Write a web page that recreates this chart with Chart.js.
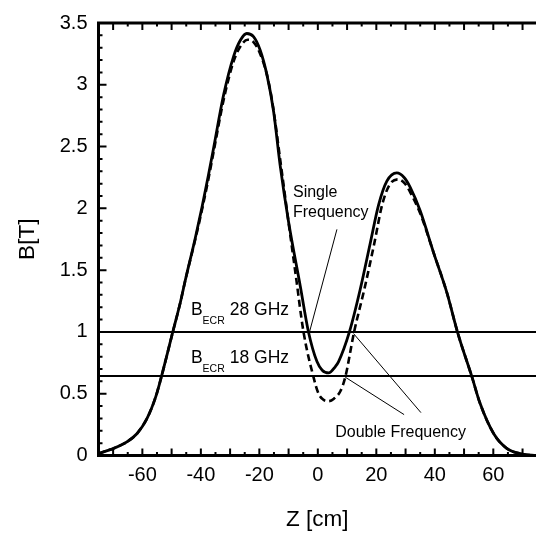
<!DOCTYPE html>
<html>
<head>
<meta charset="utf-8">
<script src="https://cdn.jsdelivr.net/npm/chart.js@4/dist/chart.umd.min.js"></script>
<style>
  html, body { margin: 0; padding: 0; background: #fff; }
</style>
</head>
<body>
<canvas id="fieldChart" width="536" height="535"></canvas>
<script>
// axial field profile, single frequency (solid)
const zSolid = [-75, -72, -69.8, -65.3, -61.8, -58.4, -55.5, -53.8, -49.7, -47, -45.3, -41.9, -39.6, -37.4, -35.7, -32.2, -28.8, -26.5, -24.3, -22, -19.7, -17.4, -15.1, -12.9, -10, -6, -3.2, -0.3, 1.5, 3.7, 6, 7.1, 10.8, 14.5, 17.9, 20.8, 23.6, 27, 29.5, 31.6, 35, 39.6, 44.1, 47.8, 52.7, 55.5, 60.1, 64.6, 70.3, 74.6];
const bSolid = [0.015, 0.04, 0.058, 0.11, 0.178, 0.30, 0.47, 0.61, 0.99, 1.24, 1.42, 1.76, 2.01, 2.27, 2.48, 2.92, 3.23, 3.36, 3.415, 3.39, 3.28, 3.08, 2.78, 2.35, 1.89, 1.37, 1.0, 0.76, 0.69, 0.668, 0.72, 0.76, 1.0, 1.345, 1.716, 2.03, 2.22, 2.287, 2.25, 2.17, 1.98, 1.64, 1.32, 0.995, 0.636, 0.42, 0.178, 0.058, 0.01, 0.0];

// double frequency (dashed)
const zDashed = [-75, -72, -69.8, -65.3, -61.8, -58.4, -55.5, -53.8, -49.7, -47, -45.3, -41.9, -39.6, -37.4, -35.7, -32.2, -28.8, -26.5, -24, -22, -19.7, -17.4, -15.5, -12.9, -10.2, -7.5, -4.9, -1.5, 0.25, 2, 3.7, 5.5, 7.7, 9.4, 12.4, 15.9, 19.3, 22, 24.5, 27.5, 29.8, 31.6, 35, 39.6, 44.1, 47.8, 52.7, 55.5, 60.1, 64.6, 70.3, 74.6];
const bDashed = [0.015, 0.04, 0.058, 0.11, 0.178, 0.30, 0.47, 0.61, 0.99, 1.24, 1.42, 1.75, 1.99, 2.24, 2.45, 2.88, 3.19, 3.31, 3.365, 3.345, 3.25, 3.08, 2.85, 2.40, 1.92, 1.45, 1.0, 0.636, 0.50, 0.45, 0.44, 0.46, 0.52, 0.636, 1.0, 1.345, 1.716, 2.03, 2.19, 2.235, 2.2, 2.13, 1.96, 1.64, 1.32, 0.995, 0.636, 0.42, 0.178, 0.058, 0.01, 0.0];

// resonance levels
const ecrLevels = [1.0, 0.643];
const ecrLabels = ['28 GHz', '18 GHz'];
const ecrLabelZ = -43.4;
const ecrLabelB = [1.134, 0.748];

// leader lines [z0, b0, z1, b1]
const singleLeader = [6.53, 1.83, -2.84, 1.0];
const doubleLeaders = [[35.25, 0.347, 12.2, 0.987], [29.5, 0.331, 9.37, 0.634]];
const singleText = ['Single', 'Frequency'];
const singleTextPos = [-8.5, 2.091, 1.932];
const doubleText = 'Double Frequency';
const doubleTextPos = [5.95, 0.148];

const xTickValues = [-60, -40, -20, 0, 20, 40, 60];
const yTickValues = [0, 0.5, 1, 1.5, 2, 2.5, 3, 3.5];
const zMin = -75, zMax = 74.6;

const fontFamily = '"Liberation Sans", Arial, sans-serif';

function pts(xs, ys) {
    return xs.map((v, i) => ({ x: v, y: ys[i] }));
}

const thinLine = (p) => ({
    data: [{ x: p[0], y: p[1] }, { x: p[2], y: p[3] }],
    borderColor: '#000',
    borderWidth: 1,
    pointRadius: 0
});

// inward ticks and the frame (left, bottom, top)
const axisFrame = {
    id: 'axisFrame',
    afterDatasetsDraw(chart) {
        const { ctx, chartArea: a, scales: { x, y } } = chart;
        ctx.save();
        ctx.strokeStyle = '#000';
        ctx.lineWidth = 2;
        ctx.beginPath();
        for (let v = -75; v <= 75; v += 5) {
            if (v < zMin || v > zMax) continue;
            const px = x.getPixelForValue(v);
            const len = v % 10 === 0 ? 7 : 3.5;
            ctx.moveTo(px, a.bottom); ctx.lineTo(px, a.bottom - len);
            ctx.moveTo(px, a.top); ctx.lineTo(px, a.top + len);
        }
        for (let i = 0; i <= 35; i++) {
            const py = y.getPixelForValue(i / 10);
            const len = i % 5 === 0 ? 8 : 4;
            ctx.moveTo(a.left, py); ctx.lineTo(a.left + len, py);
        }
        ctx.stroke();
        ctx.lineWidth = 3;
        ctx.beginPath();
        ctx.moveTo(a.left, a.top); ctx.lineTo(a.right, a.top);
        ctx.moveTo(a.left, a.top - 1.5); ctx.lineTo(a.left, a.bottom + 1.5);
        ctx.moveTo(a.left, a.bottom); ctx.lineTo(a.right, a.bottom);
        ctx.stroke();

        // annotations
        ctx.fillStyle = '#000';
        ctx.textBaseline = 'alphabetic';
        ctx.textAlign = 'left';
        ecrLevels.forEach((lv, i) => {
            let px = x.getPixelForValue(ecrLabelZ);
            const py = y.getPixelForValue(ecrLabelB[i]);
            ctx.font = '17.5px ' + fontFamily;
            ctx.fillText('B', px, py);
            px += ctx.measureText('B').width;
            ctx.font = '10.5px ' + fontFamily;
            ctx.fillText('ECR', px, py + 8.5);
            px += ctx.measureText('ECR').width + 5;
            ctx.font = '17.5px ' + fontFamily;
            ctx.fillText(ecrLabels[i], px, py);
        });
        ctx.font = '16px ' + fontFamily;
        ctx.fillText(singleText[0], x.getPixelForValue(singleTextPos[0]), y.getPixelForValue(singleTextPos[1]));
        ctx.fillText(singleText[1], x.getPixelForValue(singleTextPos[0]), y.getPixelForValue(singleTextPos[2]));
        ctx.fillText(doubleText, x.getPixelForValue(doubleTextPos[0]), y.getPixelForValue(doubleTextPos[1]));
        ctx.restore();
    }
};

const ctx = document.getElementById('fieldChart').getContext('2d');
const fieldChart = new Chart(ctx, {
    type: 'line',
    data: {
        datasets: [
            {
                label: 'Single Frequency',
                data: pts(zSolid, bSolid),
                borderColor: '#000',
                borderWidth: 2.8,
                pointRadius: 0,
                cubicInterpolationMode: 'monotone'
            },
            {
                label: 'Double Frequency',
                data: pts(zDashed, bDashed),
                borderColor: '#000',
                borderWidth: 2.6,
                borderDash: [7, 4],
                pointRadius: 0,
                cubicInterpolationMode: 'monotone'
            },
            ...ecrLevels.map(lv => ({
                data: [{ x: zMin, y: lv }, { x: zMax, y: lv }],
                borderColor: '#000',
                borderWidth: 2,
                pointRadius: 0
            })),
            thinLine(singleLeader),
            ...doubleLeaders.map(thinLine)
        ]
    },
    options: {
        responsive: false,
        animation: false,
        devicePixelRatio: 1,
        layout: { padding: { top: 16.7, right: 0, bottom: 0, left: 0 } },
        plugins: {
            legend: { display: false },
            tooltip: { enabled: false }
        },
        scales: {
            x: {
                type: 'linear',
                min: zMin,
                max: zMax,
                grid: { display: false, drawTicks: false },
                border: { display: false },
                afterBuildTicks: s => { s.ticks = xTickValues.map(v => ({ value: v })); },
                afterFit: s => { s.height = 79.5; },
                ticks: {
                    color: '#000',
                    padding: 8,
                    maxRotation: 0,
                    autoSkip: false,
                    font: { family: fontFamily, size: 20 },
                    callback: v => String(v)
                },
                title: {
                    display: true,
                    text: 'Z [cm]',
                    color: '#000',
                    font: { family: fontFamily, size: 22.5 },
                    padding: { top: 0, bottom: 2 }
                }
            },
            y: {
                type: 'linear',
                min: 0,
                max: 3.5,
                grid: { display: false, drawTicks: false },
                border: { display: false },
                afterBuildTicks: s => { s.ticks = yTickValues.map(v => ({ value: v })); },
                afterFit: s => { s.width = 98.5; },
                ticks: {
                    color: '#000',
                    padding: 11,
                    font: { family: fontFamily, size: 20 },
                    callback: v => String(v)
                },
                title: {
                    display: true,
                    text: 'B[T]',
                    color: '#000',
                    font: { family: fontFamily, size: 22.5 },
                    padding: { top: 14, bottom: 0 }
                }
            }
        }
    },
    plugins: [axisFrame]
});
</script>
</body>
</html>
